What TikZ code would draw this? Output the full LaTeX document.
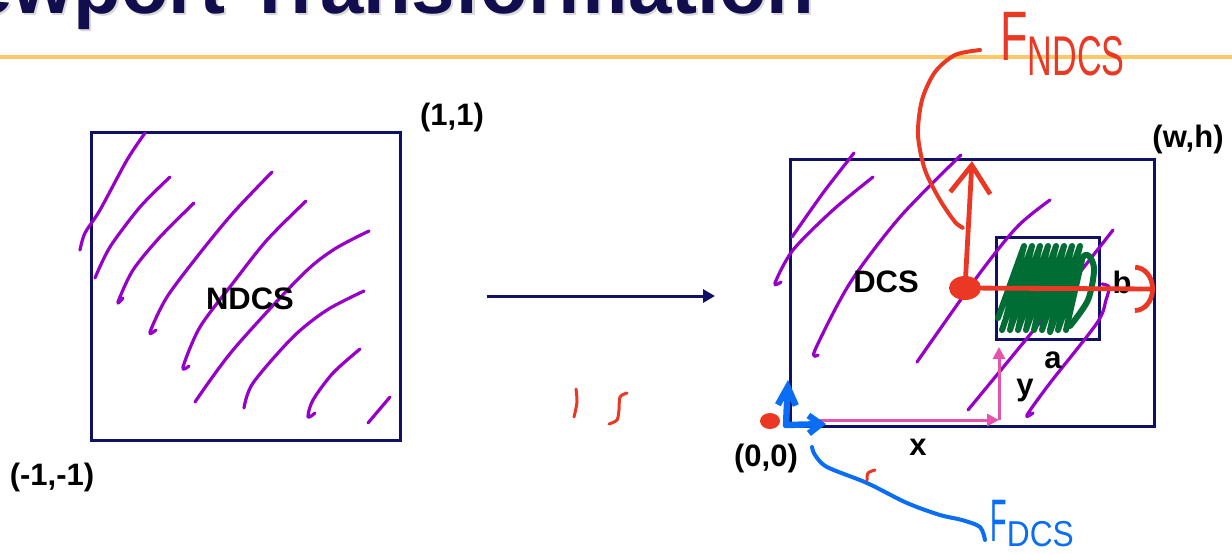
\documentclass[tikz,border=0pt]{standalone}
\usepackage{fontspec}
\setmainfont{Liberation Sans}
\usetikzlibrary{arrows.meta}
\definecolor{navy}{RGB}{16,16,100}
\definecolor{titleblue}{RGB}{18,14,78}
\definecolor{rulegold}{RGB}{255,200,100}
\definecolor{scribble}{RGB}{150,0,200}
\definecolor{penred}{RGB}{235,56,36}
\definecolor{penblue}{RGB}{10,110,245}
\definecolor{pengreen}{RGB}{0,110,52}
\definecolor{hotpink}{RGB}{228,84,170}

\begin{document}
\begin{tikzpicture}[x=0.5pt,y=-0.5pt,
    lbl/.style={font=\fontsize{15.5}{18}\selectfont\bfseries,inner sep=0pt},
    frame/.style={draw=navy,line width=1.5pt,inner sep=0pt},
    hatchline/.style={draw=scribble,line width=1.6pt,line cap=round,line join=round},
    redpen/.style={draw=penred,line width=2.4pt,line cap=round,line join=round},
    bluepen/.style={draw=penblue,line width=3.2pt,line cap=round,line join=round},
    greenpen/.style={draw=pengreen,line width=3pt,line cap=round,line join=round},
    pinkarrow/.style={draw=hotpink,line width=1.5pt,-{Triangle[length=6pt,width=6pt]}},
    hand/.style={inner sep=0pt,anchor=base west}]
  \useasboundingbox (0,0) rectangle (1232,553);
  \clip (0,0) rectangle (1232,553);

  % title, cut by the top edge
  \node[font=\fontsize{39}{40}\selectfont\bfseries,text=black!15,anchor=base east,inner sep=0pt] (titleshadow) at (817,15) {Viewport Transformation};
  \node[font=\fontsize{39}{40}\selectfont\bfseries,text=titleblue,anchor=base east,inner sep=0pt] (title) at (815,13) {Viewport Transformation};
  \draw[rulegold,line width=2pt] (0,57) -- (1232,57);

  % the two spaces
  \node[frame,minimum width=154.5pt,minimum height=154pt] (ndcs) at (245.5,286) {};
  \node[frame,minimum width=182pt,minimum height=133.5pt] (dcs) at (972,292.5) {};
  \node[frame,minimum width=51.5pt,minimum height=51pt] (vp) at (1047.5,288) {};

  \coordinate (mapfrom) at (487,296);
  \coordinate (mapto) at (715,296);
  \draw[navy,line width=1.5pt,-{Triangle[length=6pt,width=6.5pt]}] (mapfrom) -- (mapto);

  % hatching over NDCS
  \draw[hatchline] plot[smooth] coordinates {(145,133) (127,160) (100,210) (85,233) (80,250)};
  \draw[hatchline] plot[smooth] coordinates {(170,177) (140,207) (110,247) (95,278)};
  \draw[hatchline] plot[smooth] coordinates {(194,203) (160,237) (133,270) (118,302) (123,298)};
  \draw[hatchline] plot[smooth] coordinates {(272,172) (233,213) (200,253) (167,297) (150,332) (156,330)};
  \draw[hatchline] plot[smooth] coordinates {(306,201) (267,240) (233,283) (200,327) (183,367) (189,366)};
  \draw[hatchline] plot[smooth] coordinates {(369,231) (333,250) (300,277) (233,350) (195,402)};
  \draw[hatchline] plot[smooth] coordinates {(364,291) (327,310) (293,337) (253,383) (244,408)};
  \draw[hatchline] plot[smooth] coordinates {(360,349) (333,373) (313,400) (308,417) (315,413)};
  \draw[hatchline] (390,397) -- (368,423);

  % hatching over DCS
  \draw[hatchline] plot[smooth] coordinates {(854,153) (823,193) (792,237)};
  \draw[hatchline] plot[smooth] coordinates {(873,177) (833,210) (793,250) (775,283) (781,282)};
  \draw[hatchline] plot[smooth] coordinates {(961,155) (900,217) (850,283) (815,350) (818,355)};
  \draw[hatchline] plot[smooth] coordinates {(1050,200) (1017,227) (977,277) (917,362)};
  \draw[hatchline] plot[smooth] coordinates {(1113,230) (1050,310) (968,410)};
  \draw[hatchline] plot[smooth] coordinates {(1102,284) (1109,287) (1106,300) (1097,323) (1050,383) (1027,415) (1033,413)};

  % filled viewport
  \draw[greenpen] (998,318) \foreach \i in {1,...,8} { -- ++(26,-72) -- ++(-18,72) };
  \draw[greenpen] (1002,330) \foreach \i in {1,...,8} { -- ++(24,-70) -- ++(-16,70) };
  \draw[greenpen] plot[smooth] coordinates {(1050,332) (1068,285) (1085,255) (1094,268) (1088,300) (1070,326)};

  % offsets x and y
  \coordinate (orig) at (812,420);
  \coordinate (vpx) at (999,420);
  \coordinate (vpy) at (999,347);
  \draw[pinkarrow] (orig) -- (vpx);
  \draw[pinkarrow] (vpx) -- (vpy);

  % labels
  \node[lbl] (one) at (452,117) {(1,1)};
  \node[lbl] (mone) at (52,477) {(-1,-1)};
  \node[lbl] (ndcslbl) at (250,299) {NDCS};
  \node[lbl] (wh) at (1188,139) {(w,h)};
  \node[lbl] (dcslbl) at (886,282) {DCS};
  \node[lbl] (albl) at (1053,360) {a};
  \node[lbl] (blbl) at (1122,282) {b};
  \node[lbl] (ylbl) at (1025,391) {y};
  \node[lbl] (xlbl) at (918,447) {x};
  \node[lbl] (zero) at (766,458) {(0,0)};

  % NDCS frame drawn in red
  \coordinate (fo) at (965,288);
  \coordinate (fx) at (1155,289);
  \coordinate (fy) at (972,161);
  \draw[redpen,-{Arc Barb[length=10pt,width=24pt]}] (fo) -- (fx);
  \draw[redpen,-{Straight Barb[length=14pt,width=20pt]}] (fo) -- (fy);
  \fill[penred] (fo) ellipse (8pt and 6pt);
  \node[hand,text=penred] (fndcs) at (1000,60) {\scalebox{0.64}[1]{\fontsize{35}{35}\selectfont F}\raisebox{-7.5pt}{\scalebox{0.61}[1]{\fontsize{28}{28}\selectfont NDCS}}};
  \draw[redpen,line width=2pt] plot[smooth] coordinates {(980,50) (955,55) (935,72) (922,100) (918,135) (925,170) (940,200) (955,222) (963,228) (957,224)};

  % DCS frame drawn in blue
  \coordinate (go) at (786,425);
  \coordinate (gx) at (826,424);
  \coordinate (gy) at (788,380);
  \fill[penred] (770,421) ellipse (5pt and 4pt);
  \draw[bluepen,-{Straight Barb[length=6pt,width=9pt]}] (go) -- (gx);
  \draw[bluepen,-{Straight Barb[length=9pt,width=9pt]}] (go) -- (gy);
  \node[hand,text=penblue] (fdcs) at (990,541) {\scalebox{0.45}[1]{\fontsize{30}{30}\selectfont F}\raisebox{-2.5pt}{\scalebox{0.88}[1]{\fontsize{18}{18}\selectfont DCS}}};
  \draw[bluepen,line width=2pt] plot[smooth] coordinates {(812,447) (815,455) (827,467) (867,483) (907,503) (940,515) (962,520) (980,527) (985,540)};

  % stray pen marks
  \draw[redpen,line width=1.5pt] plot[smooth] coordinates {(867,480) (868,473) (875,470)};
  \draw[redpen,line width=1.5pt] plot[smooth] coordinates {(576,389) (577,402) (574,417)};
  \draw[redpen,line width=1.5pt] plot[smooth] coordinates {(627,393) (620,397) (619,410) (617,420) (609,424)};
\end{tikzpicture}
\end{document}
